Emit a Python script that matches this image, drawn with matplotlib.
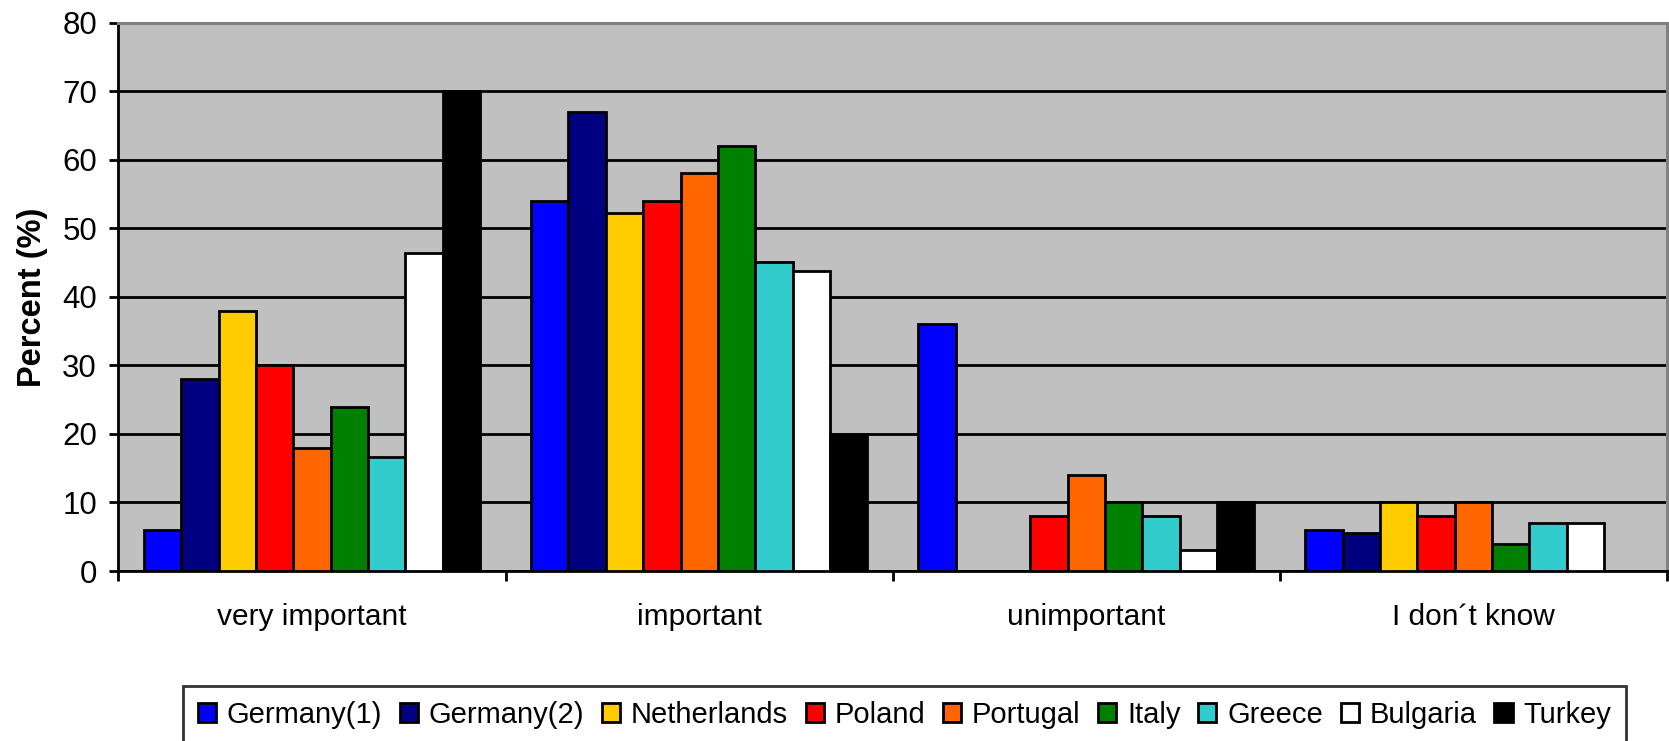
import matplotlib
matplotlib.use('Agg')

import matplotlib.pyplot as plt
import numpy as np

plt.rcParams['font.family'] = ['Liberation Sans', 'DejaVu Sans']

categories = ["very important", "important", "unimportant", "I don\u00b4t know"]
countries = ["Germany(1)", "Germany(2)", "Netherlands", "Poland", "Portugal",
             "Italy", "Greece", "Bulgaria", "Turkey"]
colors = ["#0000FF", "#000080", "#FFCC00", "#FF0000", "#FF6600",
          "#008000", "#33CCCC", "#FFFFFF", "#000000"]

# percent per country, one value per category
germany1 = [6, 54, 36, 6]
germany2 = [28, 67, 0, 5.6]
netherlands = [38, 52.2, 0, 10]
poland = [30, 54, 8, 8]
portugal = [18, 58, 14, 10]
italy = [24, 62, 10, 4]
greece = [16.7, 45.1, 8, 7]
bulgaria = [46.4, 43.8, 3, 7]
turkey = [70, 20, 10, 0]

series = [germany1, germany2, netherlands, poland, portugal,
          italy, greece, bulgaria, turkey]

fig = plt.figure(figsize=(16.69, 7.41), dpi=100)
ax = fig.add_axes([0.0710, 0.2294, 0.9278, 0.7400])
ax.set_facecolor('#C0C0C0')

x = np.arange(len(categories))
w = 0.0965
for j, (name, vals, col) in enumerate(zip(countries, series, colors)):
    vals = np.array(vals, dtype=float)
    mask = vals > 0
    ax.bar(x[mask] + (j - 4) * w, vals[mask], width=w, color=col,
           edgecolor='black', linewidth=2.0, label=name, zorder=3)

ax.set_xlim(-0.5, 3.5)
ax.set_ylim(0, 80)
ax.set_yticks(range(0, 81, 10))
ax.yaxis.grid(True, color='black', linewidth=2.0)
ax.set_axisbelow(True)

ax.set_xticks(x)
ax.set_xticklabels(categories, fontsize=21.5)
ax.set_xticks(np.arange(-0.5, 4, 1), minor=True)
ax.tick_params(axis='x', which='major', length=0, pad=23)
ax.tick_params(axis='x', which='minor', direction='out', length=7, width=2)
ax.tick_params(axis='y', direction='out', length=6.5, width=2, labelsize=22.5, pad=9)

ax.set_ylabel('Percent (%)', fontsize=23.5, fontweight='bold', labelpad=10)

for s in ['left', 'bottom']:
    ax.spines[s].set_color('black')
    ax.spines[s].set_linewidth(2.0)
for s in ['top', 'right']:
    ax.spines[s].set_color('#808080')
    ax.spines[s].set_linewidth(2.2)

leg = fig.legend(loc='upper left', bbox_to_anchor=(0.1096, 0.0742), ncol=9,
                 fontsize=21, frameon=True, fancybox=False, borderpad=0.5,
                 handlelength=0.62, handleheight=0.62, handletextpad=0.38,
                 columnspacing=0.6, borderaxespad=0)
leg.get_frame().set_edgecolor('black')
leg.get_frame().set_linewidth(2.0)

fig.savefig('out.png', dpi=100)
plt.close(fig)
